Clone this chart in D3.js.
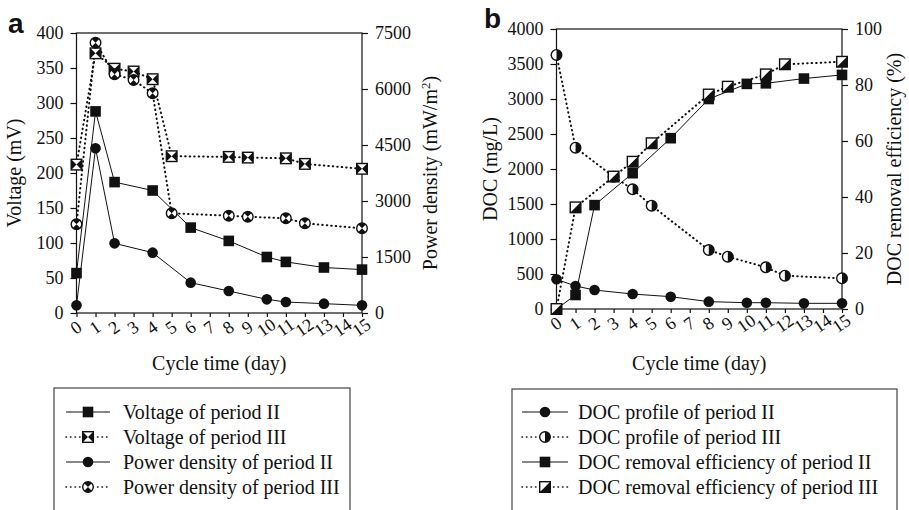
<!DOCTYPE html>
<html>
<head>
<meta charset="utf-8">
<script src="https://cdn.jsdelivr.net/npm/d3@7"></script>
<style>
  body { margin: 0; background: #fff; }
  svg { display: block; }
  text { font-family: "Liberation Serif", "Times New Roman", serif; fill: #111; }
</style>
</head>
<body>
<svg id="chart" width="909" height="510"></svg>
<script>
// days on which each series was sampled
const daysII = [0, 1, 2, 4, 6, 8, 10, 11, 13, 15];
const daysIIIa = [0, 1, 2, 3, 4, 5, 8, 9, 11, 12, 15];
const daysIIIb = [0, 1, 3, 4, 5, 8, 9, 11, 12, 15];
const dayTicks = d3.range(0, 16);

// panel a
const voltageII = [57, 288, 187, 175, 122, 103, 80, 73, 65, 62];
const voltageIII = [212, 371, 349, 345, 334, 224, 223, 222, 221, 213, 206];
const powerII = [205, 4411, 1866, 1616, 813, 589, 366, 295, 250, 205];
const powerIII = [2376, 7240, 6393, 6241, 5884, 2670, 2607, 2580, 2536, 2402, 2268];
const voltageTicks = [0, 50, 100, 150, 200, 250, 300, 350, 400];
const powerTicks = [0, 1500, 3000, 4500, 6000, 7500];

// panel b
const docII = [424, 329, 271, 214, 176, 105, 90, 90, 81, 81];
const docIII = [3629, 2305, 1890, 1710, 1476, 843, 748, 595, 476, 438];
const effII = [0, 5, 37.1, 48.5, 61, 75, 80.4, 80.6, 82.3, 83.6];
const effIII = [0, 36.3, 47.3, 52.6, 59.2, 76.6, 79.4, 83.8, 87.4, 88.3];
const docTicks = [0, 500, 1000, 1500, 2000, 2500, 3000, 3500, 4000];
const effTicks = [0, 20, 40, 60, 80, 100];

const legendA = ['Voltage of period II', 'Voltage of period III', 'Power density of period II', 'Power density of period III'];
const legendB = ['DOC profile of period II', 'DOC profile of period III', 'DOC removal efficiency of period II', 'DOC removal efficiency of period III'];

const svg = d3.select('#chart');

// marker glyphs, drawn around (0,0)
const drawMarker = (g, type) => {
  const h = 5.3, r = 5.3;
  const c = r * Math.SQRT1_2;
  if (type === 'square') {
    g.append('rect').attr('x', -h).attr('y', -h).attr('width', 2 * h).attr('height', 2 * h).attr('fill', '#111');
  } else if (type === 'circle') {
    g.append('circle').attr('r', r).attr('fill', '#111');
  } else if (type === 'bowSquare') {
    g.append('rect').attr('x', -h).attr('y', -h).attr('width', 2 * h).attr('height', 2 * h)
      .attr('fill', '#fff').attr('stroke', '#111').attr('stroke-width', 1.4);
    g.append('path').attr('d', `M${-h},${-h}L0,0L${-h},${h}ZM${h},${-h}L0,0L${h},${h}Z`).attr('fill', '#111');
  } else if (type === 'bowCircle') {
    g.append('circle').attr('r', r).attr('fill', '#fff').attr('stroke', '#111').attr('stroke-width', 1.4);
    g.append('path')
      .attr('d', `M0,0L${-c},${-c}A${r},${r} 0 0 1 ${c},${-c}ZM0,0L${-c},${c}A${r},${r} 0 0 0 ${c},${c}Z`)
      .attr('fill', '#111');
  } else if (type === 'halfCircle') {
    g.append('circle').attr('r', r).attr('fill', '#fff').attr('stroke', '#111').attr('stroke-width', 1.4);
    g.append('path').attr('d', `M0,${-r}A${r},${r} 0 0 1 0,${r}Z`).attr('fill', '#111');
  } else if (type === 'halfSquare') {
    g.append('rect').attr('x', -h).attr('y', -h).attr('width', 2 * h).attr('height', 2 * h)
      .attr('fill', '#fff').attr('stroke', '#111').attr('stroke-width', 1.4);
    g.append('path').attr('d', `M${h},${-h}L${h},${h}L${-h},${h}Z`).attr('fill', '#111');
  }
};

const lineStyle = (sel, dotted) => {
  sel.attr('fill', 'none').attr('stroke', '#111');
  if (dotted) {
    sel.attr('stroke-width', 2).attr('stroke-dasharray', '0.5,4').attr('stroke-linecap', 'round');
  } else {
    sel.attr('stroke-width', 1);
  }
};

const drawPanel = (p) => {
  const x = d3.scaleLinear().domain([0, 15]).range([p.left, p.right]);
  const yL = d3.scaleLinear().domain(p.leftDomain).range([p.bottom, p.top]);
  const yR = d3.scaleLinear().domain(p.rightDomain).range([p.bottom, p.top]);
  const g = svg.append('g');

  // frame
  g.append('rect').attr('x', p.left).attr('y', p.top)
    .attr('width', p.right - p.left).attr('height', p.bottom - p.top)
    .attr('fill', 'none').attr('stroke', '#111').attr('stroke-width', 1.2);

  const xAxis = g.append('g').attr('transform', `translate(0,${p.bottom})`)
    .call(d3.axisBottom(x).tickValues(dayTicks).tickSize(4).tickSizeOuter(0).tickFormat(d3.format('d')));
  xAxis.selectAll('text')
    .attr('y', 0).attr('dy', 0)
    .attr('transform', 'translate(0,16) rotate(-35)')
    .attr('text-anchor', 'middle').attr('dominant-baseline', 'middle');

  const leftAxis = g.append('g').attr('transform', `translate(${p.left},0)`)
    .call(d3.axisLeft(yL).tickValues(p.leftTicks).tickSize(6).tickSizeOuter(0).tickPadding(7).tickFormat(d3.format('d')));
  const rightAxis = g.append('g').attr('transform', `translate(${p.right},0)`)
    .call(d3.axisRight(yR).tickValues(p.rightTicks).tickSize(6).tickSizeOuter(0).tickPadding(7).tickFormat(d3.format('d')));

  [xAxis, leftAxis, rightAxis].forEach(a => {
    a.selectAll('.domain').remove();
    a.selectAll('line').attr('stroke', '#111').attr('stroke-width', 1.2);
    a.selectAll('text').style('font-family', '"Liberation Serif", serif').style('font-size', '18px').attr('fill', '#111');
  });

  // series
  p.series.forEach(s => {
    const yS = s.axis === 'left' ? yL : yR;
    const pts = s.days.map((d, i) => [x(d), yS(s.values[i])]);
    g.append('path').attr('d', d3.line()(pts)).call(lineStyle, s.dotted);
  });
  p.series.forEach(s => {
    const yS = s.axis === 'left' ? yL : yR;
    s.days.forEach((d, i) => {
      const m = g.append('g').attr('transform', `translate(${x(d)},${yS(s.values[i])})`);
      drawMarker(m, s.marker);
    });
  });

  // titles
  g.append('text').attr('x', (p.left + p.right) / 2).attr('y', 370)
    .attr('text-anchor', 'middle').style('font-size', '20px').text('Cycle time (day)');
  g.append('text')
    .attr('transform', `translate(${p.leftTitleX},${(p.top + p.bottom) / 2}) rotate(-90)`)
    .attr('text-anchor', 'middle').style('font-size', '20px').text(p.leftTitle);
  const rt = g.append('text')
    .attr('transform', `translate(${p.rightTitleX},${(p.top + p.bottom) / 2}) rotate(-90)`)
    .attr('text-anchor', 'middle').style('font-size', '20px');
  rt.text(p.rightTitle);
  if (p.superscript) {
    rt.append('tspan').attr('dy', -7).style('font-size', '13px').text(p.superscript);
    rt.append('tspan').attr('dy', 7).text(')');
  }

  g.append('text').attr('x', p.letterX).attr('y', p.letterY)
    .style('font-family', '"Liberation Sans", Arial, sans-serif')
    .style('font-weight', 'bold').style('font-size', '28px').text(p.letter);

  // legend
  const lg = g.append('g');
  lg.append('rect').attr('x', p.legend.x0).attr('y', p.legend.y0)
    .attr('width', p.legend.x1 - p.legend.x0).attr('height', 140)
    .attr('fill', 'none').attr('stroke', '#444').attr('stroke-width', 1.2);
  p.series.forEach((s, i) => {
    const yy = p.legend.rowY + i * 25;
    const l = lg.append('path').attr('d', `M${p.legend.lineX0},${yy}H${p.legend.lineX1}`);
    lineStyle(l, s.dotted);
    if (s.dotted) l.attr('stroke-width', 1.5);
    const m = lg.append('g').attr('transform', `translate(${(p.legend.lineX0 + p.legend.lineX1) / 2},${yy})`);
    drawMarker(m, s.marker);
    lg.append('text').attr('x', p.legend.textX).attr('y', yy).attr('dy', '0.33em')
      .style('font-size', '20px').text(p.legendLabels[i]);
  });
};

drawPanel({
  left: 76.5, right: 362, top: 33, bottom: 313,
  leftDomain: [0, 400], rightDomain: [0, 7500],
  leftTicks: voltageTicks, rightTicks: powerTicks,
  leftTitle: 'Voltage (mV)', leftTitleX: 21,
  rightTitle: 'Power density (mW/m', superscript: '2', rightTitleX: 437,
  letter: 'a', letterX: 8, letterY: 33,
  legendLabels: legendA,
  legend: { x0: 54, x1: 350, y0: 388, rowY: 412, lineX0: 66, lineX1: 110, textX: 123 },
  series: [
    { days: daysII, values: voltageII, axis: 'left', marker: 'square', dotted: false },
    { days: daysIIIa, values: voltageIII, axis: 'left', marker: 'bowSquare', dotted: true },
    { days: daysII, values: powerII, axis: 'right', marker: 'circle', dotted: false },
    { days: daysIIIa, values: powerIII, axis: 'right', marker: 'bowCircle', dotted: true }
  ]
});

drawPanel({
  left: 556.5, right: 842, top: 29, bottom: 309,
  leftDomain: [0, 4000], rightDomain: [0, 100],
  leftTicks: docTicks, rightTicks: effTicks,
  leftTitle: 'DOC (mg/L)', leftTitleX: 497,
  rightTitle: 'DOC removal efficiency (%)', rightTitleX: 901,
  letter: 'b', letterX: 484, letterY: 28,
  legendLabels: legendB,
  legend: { x0: 512, x1: 897, y0: 389, rowY: 412, lineX0: 522, lineX1: 568, textX: 578 },
  series: [
    { days: daysII, values: docII, axis: 'left', marker: 'circle', dotted: false },
    { days: daysIIIb, values: docIII, axis: 'left', marker: 'halfCircle', dotted: true },
    { days: daysII, values: effII, axis: 'right', marker: 'square', dotted: false },
    { days: daysIIIb, values: effIII, axis: 'right', marker: 'halfSquare', dotted: true }
  ]
});
</script>
</body>
</html>
